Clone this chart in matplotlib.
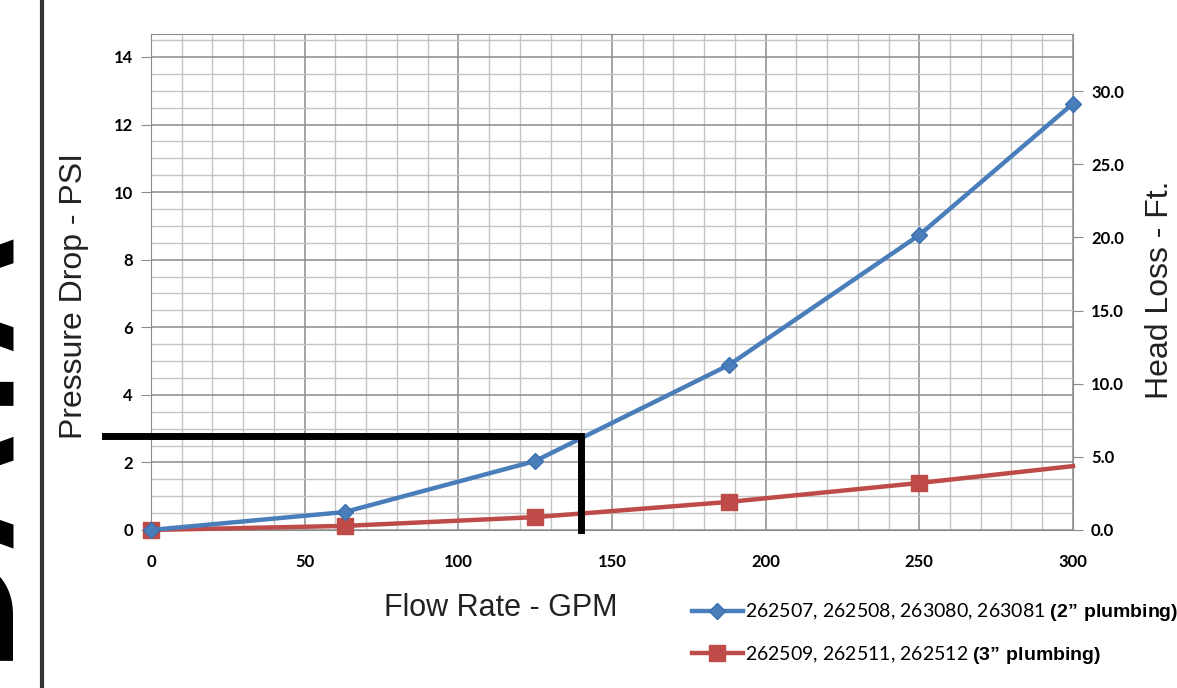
import numpy as np
import matplotlib
matplotlib.use('Agg')
import matplotlib.pyplot as plt
from matplotlib.lines import Line2D
from matplotlib.ticker import MultipleLocator, FormatStrFormatter

plt.rcParams['mathtext.fontset'] = 'custom'
plt.rcParams['mathtext.bf'] = 'Liberation Sans:bold'
plt.rcParams['mathtext.rm'] = 'Lato'

## data
flow_gpm = [0, 63, 125, 188, 250, 300]
psi_2in = [0, 0.53, 2.04, 4.88, 8.73, 12.62]
psi_3in = [0, 0.12, 0.38, 0.83, 1.39, 1.89]
label_2in = '262507, 262508, 263080, 263081 $\\bf{(2”\\ plumbing)}$'
label_3in = '262509, 262511, 262512 $\\bf{(3”\\ plumbing)}$'

# operating point marked in black
mark_flow = 140
mark_psi = 2.78
mark_start = -15

psi_to_ft = 2.31
psi_top = 14.68

blue = '#4a7ebb'
red = '#be4b48'
tick_font = dict(family='Lato', weight='bold', size=12)

fig = plt.figure(figsize=(11.77, 6.88), dpi=100)
ax = fig.add_axes([0.1283, 0.2297, 0.7833, 0.7209])

ax.set_xlim(0, 300)
ax.set_ylim(0, psi_top)
ax.xaxis.set_major_locator(MultipleLocator(50))
ax.xaxis.set_minor_locator(MultipleLocator(10))
ax.yaxis.set_major_locator(MultipleLocator(2))
ax.yaxis.set_minor_locator(MultipleLocator(0.5))
ax.grid(which='major', color='#8c8c8c', lw=1.1)
ax.grid(which='minor', color='#c4c4c4', lw=1.0)
ax.set_axisbelow(True)
for s in ax.spines.values():
    s.set_color('#8c8c8c')

ax.tick_params(axis='x', which='both', length=0, pad=17)
ax.tick_params(axis='y', which='major', length=7, color='#8c8c8c', pad=6)
ax.tick_params(axis='y', which='minor', length=0)
for t in ax.get_xticklabels() + ax.get_yticklabels():
    t.set_fontfamily(tick_font['family'])
    t.set_fontweight(tick_font['weight'])
    t.set_fontsize(tick_font['size'])

l2, = ax.plot(flow_gpm, psi_2in, color=blue, lw=3.2, marker='D', ms=8,
              markeredgecolor='#3a6fb0', zorder=4, clip_on=False)
l3, = ax.plot(flow_gpm, psi_3in, color=red, lw=3.2, marker='s', ms=12,
              markevery=[0, 1, 2, 3, 4], zorder=3, clip_on=False)

ax.plot([mark_start, mark_flow, mark_flow], [mark_psi, mark_psi, 0],
        color='black', lw=5, solid_joinstyle='miter', clip_on=False, zorder=5)

ax2 = ax.twinx()
ax2.set_ylim(0, psi_top * psi_to_ft)
ax2.set_yticks(np.arange(0, 31, 5))
ax2.yaxis.set_major_formatter(FormatStrFormatter('%.1f'))
ax2.tick_params(axis='y', length=7, color='#8c8c8c', pad=6)
for s in ax2.spines.values():
    s.set_visible(False)
for t in ax2.get_yticklabels():
    t.set_fontfamily(tick_font['family'])
    t.set_fontweight(tick_font['weight'])
    t.set_fontsize(tick_font['size'])

fig.text(0.063, 0.570, 'Pressure Drop - PSI', rotation=90, ha='center', va='center',
         family='Liberation Sans', fontsize=23, color='#222222')
fig.text(0.9855, 0.5785, 'Head Loss - Ft.', rotation=90, ha='center', va='center',
         family='Liberation Sans', fontsize=23, color='#222222')
fig.text(0.4257, 0.116, 'Flow Rate - GPM', ha='center', va='center',
         family='Liberation Sans', fontsize=22, color='#222222')

fig.legend([l2, l3], [label_2in, label_3in], loc='upper left',
           bbox_to_anchor=(0.588, 0.126), frameon=False,
           prop=dict(family='Lato', size=14), handlelength=2.6,
           handletextpad=0.1, labelspacing=1.05, borderpad=0, borderaxespad=0)

# page border line and cut-off page heading on the left
fig.add_artist(Line2D([0.0357, 0.0357], [0, 1], color='#333333', lw=3))
fig.text(0.002, 0.0407, 'DATA', rotation=90, rotation_mode='anchor',
         ha='left', va='baseline', family='Liberation Sans', weight='bold',
         fontsize=120, color='black')

fig.savefig('out.png', dpi=100)
